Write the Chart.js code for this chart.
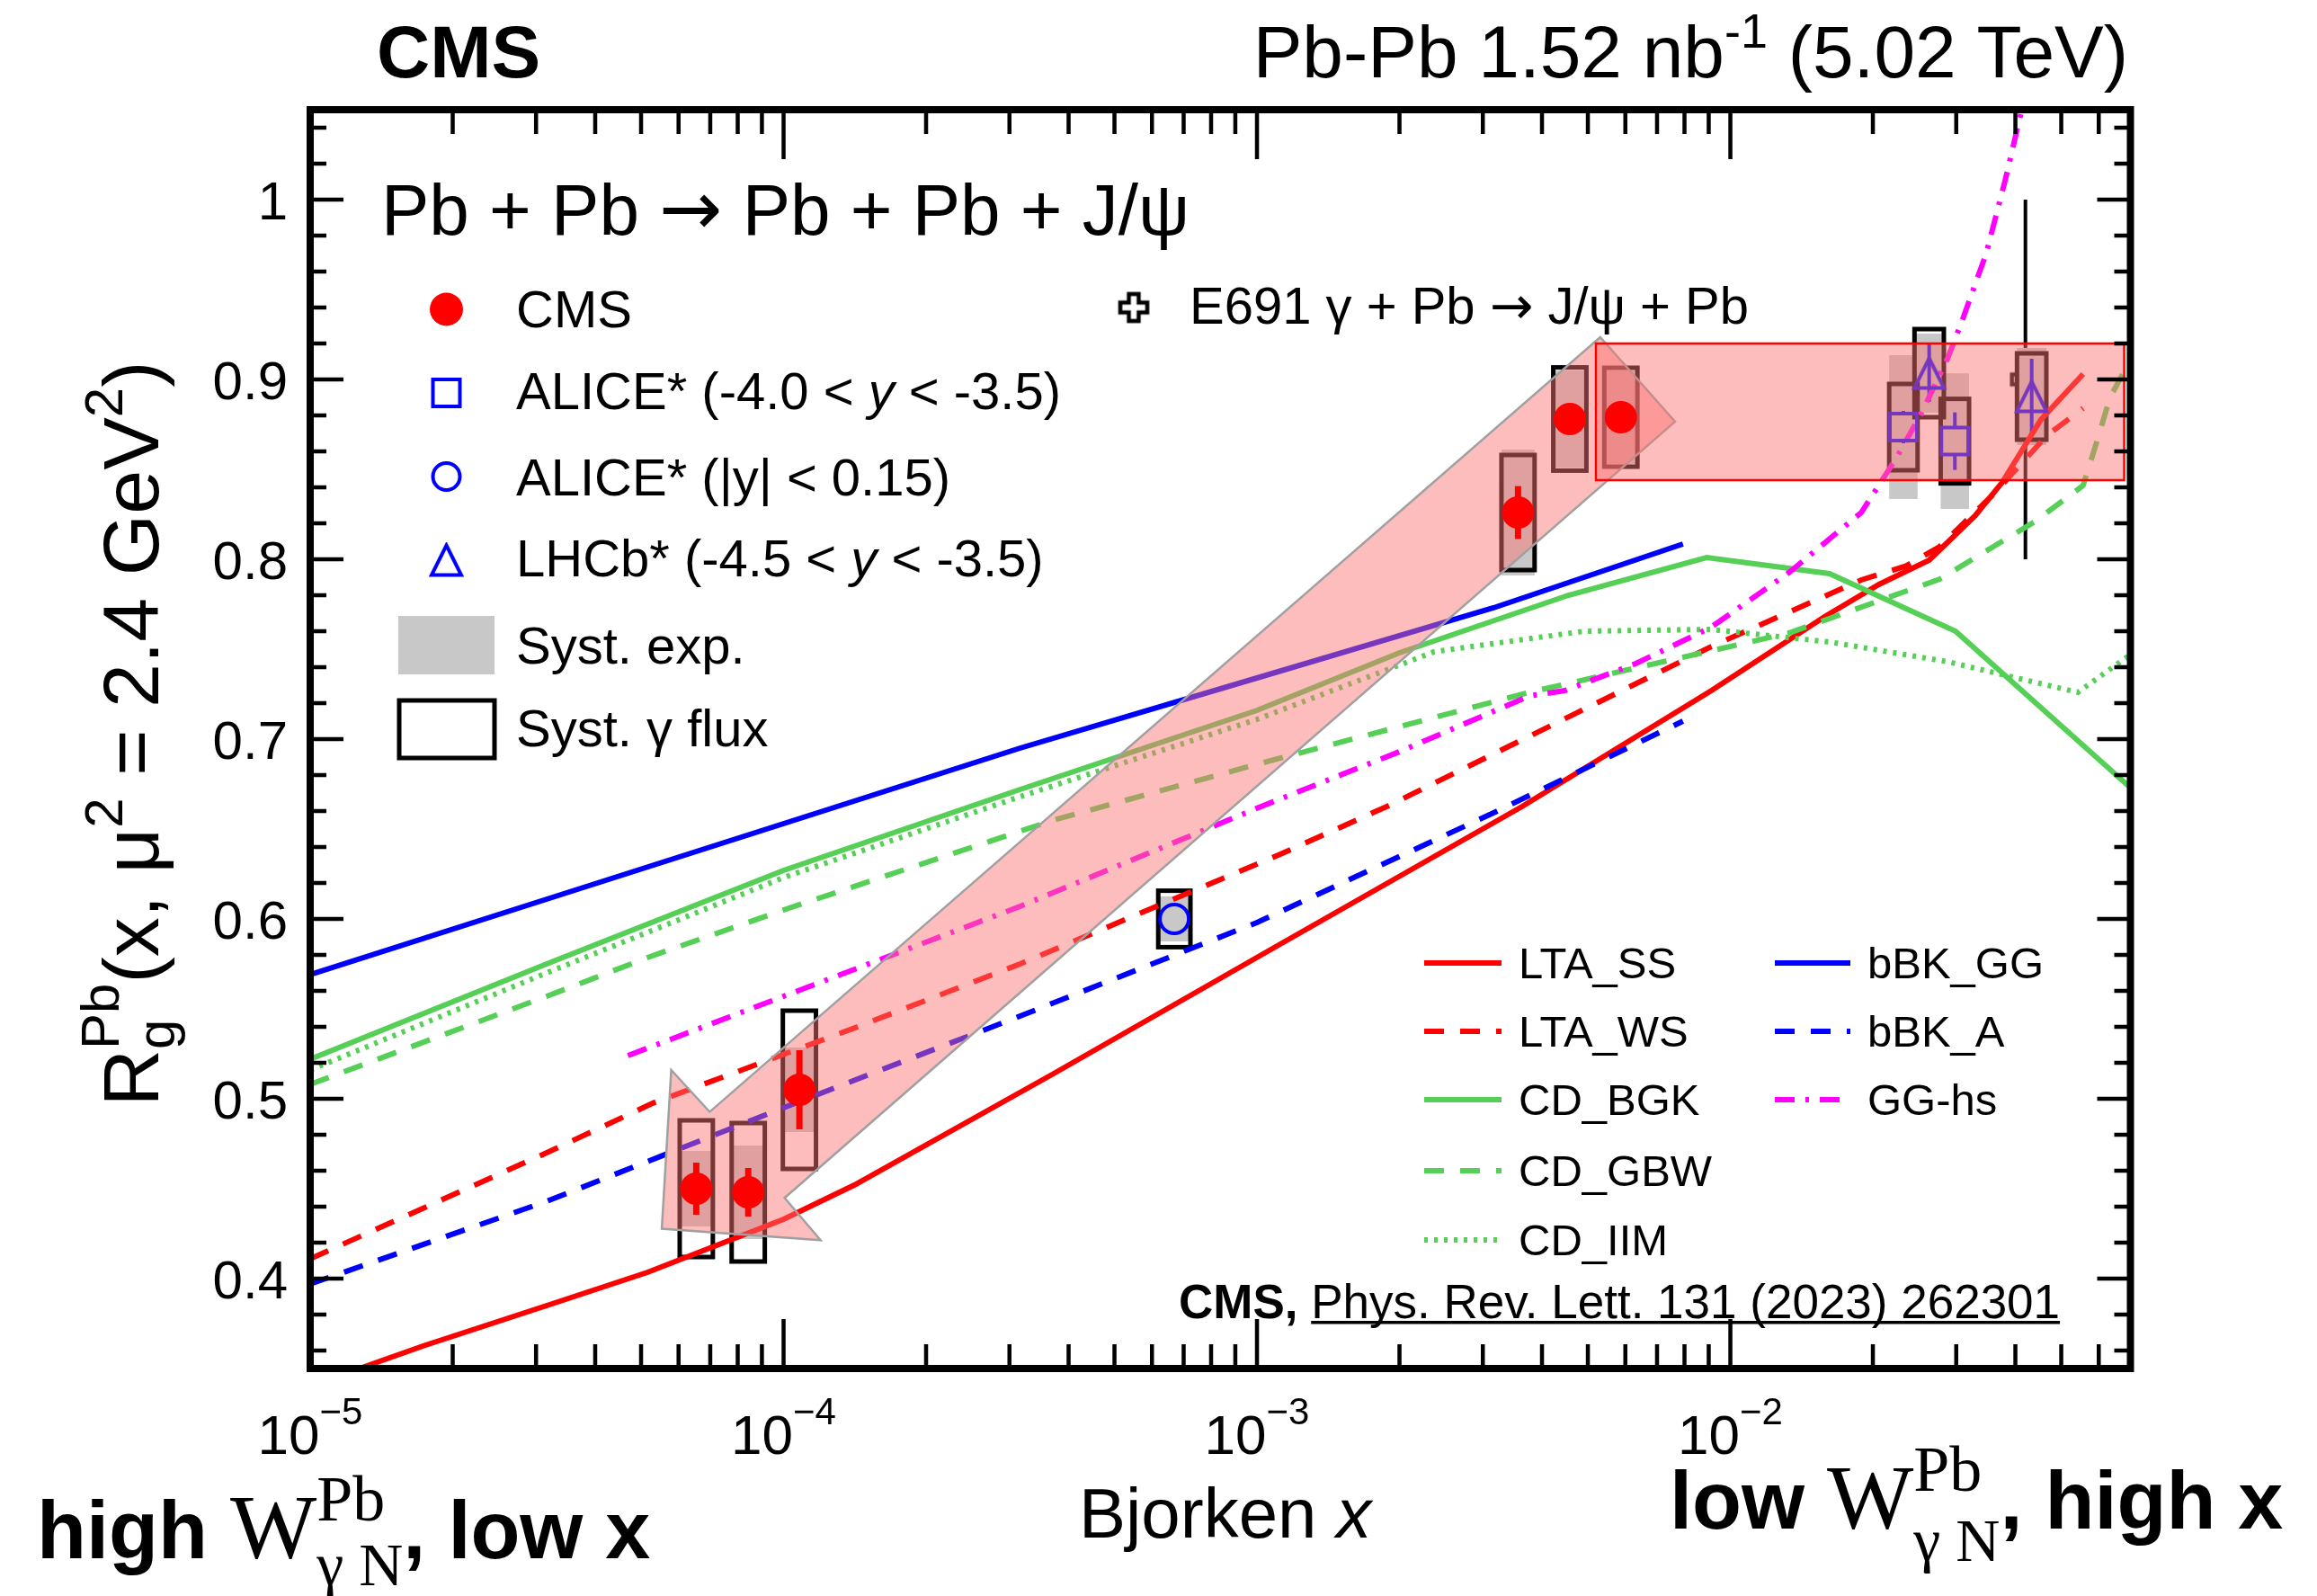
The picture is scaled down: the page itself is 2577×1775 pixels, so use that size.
<!DOCTYPE html>
<html>
<head>
<meta charset="utf-8">
<title>R_g^Pb versus Bjorken x</title>
<script src="https://cdn.jsdelivr.net/npm/chart.js@4.4.1/dist/chart.umd.min.js"></script>
<style>
  html, body { margin: 0; padding: 0; background: #fff; }
  canvas { display: block; }
</style>
</head>
<body>
<canvas id="rgChart" width="2577" height="1775"></canvas>
<script>
// ========================================
// Gluon nuclear modification factor R_g^Pb(x) from coherent J/psi photoproduction
// ========================================

// Axis ranges and tick labels
const xRange = [1e-5, 0.07];
const yRange = [0.35, 1.05];
const xDecades = [1e-5, 1e-4, 1e-3, 1e-2];
const xDecadeExponents = ['\u22125', '\u22124', '\u22123', '\u22122'];
const yMajorTicks = [0.4, 0.5, 0.6, 0.7, 0.8, 0.9, 1.0];
const yTickLabels = ['0.4', '0.5', '0.6', '0.7', '0.8', '0.9', '1'];

// CMS points (stat. error, exp. syst., photon-flux syst.)
const cmsX = [6.54e-5, 8.42e-5, 1.08e-4, 3.56e-3, 4.58e-3, 5.87e-3];
const cmsR = [0.450, 0.448, 0.505, 0.826, 0.878, 0.879];
const cmsStat = [0.0145, 0.0135, 0.022, 0.0147, 0.007, 0.007];
const cmsSystExp = [0.021, 0.026, 0.0235, 0.035, 0.027, 0.026];
const cmsSystFlux = [0.038, 0.0385, 0.044, 0.032, 0.0287, 0.0275];

// ALICE forward rapidity (-4.0 < y < -3.5)
const aliceFwdX = [0.0232, 0.0298];
const aliceFwdR = [0.8735, 0.8657];
const aliceFwdStat = [0.009, 0.016];
const aliceFwdSystExp = [0.040, 0.0377];
const aliceFwdSystFlux = [0.024, 0.0235];

// ALICE mid rapidity (|y| < 0.15)
const aliceMidX = [6.69e-4];
const aliceMidR = [0.600];
const aliceMidStat = [0.006];
const aliceMidSystExp = [0.0125];
const aliceMidSystFlux = [0.0157];

// LHCb (-4.5 < y < -3.5)
const lhcbX = [0.0263, 0.0433];
const lhcbR = [0.9035, 0.8905];
const lhcbStat = [0.016, 0.021];
const lhcbSystExp = [0.022, 0.027];
const lhcbSystFlux = [0.0245, 0.024];

// E691 gamma + Pb
const e691X = [0.042];
const e691R = [0.90];
const e691Err = [0.10];

// Model curves
const ltaSsX = [1.0e-5, 1.27e-5, 1.73e-5, 3.16e-5, 5.16e-5, 1.0e-4, 1.41e-4, 3.72e-4, 1.12e-3, 3.63e-3, 9.12e-3, 1.58e-2, 2.06e-2, 2.63e-2, 3.29e-2, 3.75e-2, 4.53e-2, 5.56e-2];
const ltaSsR = [0.340, 0.350, 0.3625, 0.385, 0.4035, 0.433, 0.452, 0.514, 0.586, 0.6625, 0.727, 0.768, 0.786, 0.7995, 0.8243, 0.8427, 0.8777, 0.903];

const ltaWsX = [1.0e-5, 3.16e-5, 5.31e-5, 1.41e-4, 3.16e-4, 1.12e-3, 1.88e-3, 9.12e-3, 1.89e-2, 2.35e-2, 2.76e-2, 3.59e-2, 4.67e-2, 5.56e-2];
const ltaWsR = [0.411, 0.470, 0.4977, 0.5393, 0.575, 0.636, 0.6625, 0.7515, 0.7885, 0.7963, 0.8068, 0.836, 0.869, 0.884];

const cdBgkX = [1.0e-5, 3.16e-5, 1.0e-4, 3.16e-4, 1.0e-3, 2.0e-3, 4.55e-3, 8.91e-3, 1.62e-2, 2.99e-2, 7.0e-2];
const cdBgkR = [0.522, 0.575, 0.627, 0.672, 0.716, 0.748, 0.780, 0.801, 0.792, 0.760, 0.673];

const cdGbwX = [1.0e-5, 3.16e-5, 5.22e-5, 1.0e-4, 3.72e-4, 1.0e-3, 3.76e-3, 1.33e-2, 2.77e-2, 4.40e-2, 5.56e-2, 5.89e-2, 6.34e-2, 7.0e-2];
const cdGbwR = [0.508, 0.557, 0.579, 0.605, 0.655, 0.686, 0.726, 0.759, 0.789, 0.821, 0.841, 0.862, 0.890, 0.911];

const cdIimX = [1.0e-5, 3.16e-5, 1.0e-4, 3.16e-4, 1.0e-3, 2.37e-3, 4.91e-3, 9.08e-3, 1.62e-2, 2.88e-2, 5.42e-2, 7.0e-2];
const cdIimR = [0.516, 0.570, 0.623, 0.668, 0.711, 0.7486, 0.760, 0.761, 0.754, 0.743, 0.726, 0.747];

const bbkGgX = [1.0e-5, 3.16e-5, 1.0e-4, 3.16e-4, 1.0e-3, 3.16e-3, 7.94e-3];
const bbkGgR = [0.569, 0.611, 0.653, 0.695, 0.734, 0.773, 0.8085];

const bbkAX = [1.0e-5, 3.16e-5, 1.0e-4, 3.16e-4, 1.0e-3, 3.16e-3, 7.94e-3];
const bbkAR = [0.397, 0.443, 0.495, 0.546, 0.598, 0.659, 0.710];

const ggHsX = [4.69e-5, 1.0e-4, 3.16e-4, 1.02e-3, 2.0e-3, 3.76e-3, 4.47e-3, 6.31e-3, 9.08e-3, 1.33e-2, 1.89e-2, 2.25e-2, 2.53e-2, 2.88e-2, 3.10e-2, 3.47e-2, 3.80e-2, 4.17e-2];
const ggHsR = [0.524, 0.557, 0.607, 0.6625, 0.693, 0.724, 0.727, 0.742, 0.762, 0.7926, 0.826, 0.857, 0.881, 0.912, 0.934, 0.970, 1.010, 1.055];

// Shaded arrow (low-x solution towards high-x solution) and high-x band
const arrowX = [5.79e-5, 6.98e-5, 5.31e-3, 7.64e-3, 1.005e-4, 1.197e-4, 5.53e-5];
const arrowR = [0.516, 0.4927, 0.9235, 0.8765, 0.4449, 0.4214, 0.4277];
const bandX = [5.2e-3, 0.0679];
const bandR = [0.844, 0.920];

// ---- styles ----
const SANS = '"Liberation Sans", Arial, Helvetica, sans-serif';
const SERIF = '"Liberation Serif", "Times New Roman", serif';
const ARROW_FONT = '"DejaVu Sans", sans-serif';
const RED = '#ff0000';
const BLUE = '#0000ff';
const GREEN = '#56cf56';
const MAGENTA = '#ff00ff';
const CURVE_WIDTH = 6;

const models = [
  { label: 'LTA_SS', x: ltaSsX, y: ltaSsR, color: RED, dash: [] },
  { label: 'LTA_WS', x: ltaWsX, y: ltaWsR, color: RED, dash: [22, 18] },
  { label: 'CD_BGK', x: cdBgkX, y: cdBgkR, color: GREEN, dash: [] },
  { label: 'CD_GBW', x: cdGbwX, y: cdGbwR, color: GREEN, dash: [22, 18] },
  { label: 'CD_IIM', x: cdIimX, y: cdIimR, color: GREEN, dash: [4, 7] },
  { label: 'bBK_GG', x: bbkGgX, y: bbkGgR, color: BLUE, dash: [] },
  { label: 'bBK_A', x: bbkAX, y: bbkAR, color: BLUE, dash: [22, 18] },
  { label: 'GG-hs', x: ggHsX, y: ggHsR, color: MAGENTA, dash: [22, 12, 4, 12] }
];

// ---- custom ROOT-like markers ----
function triangleMarker(size, lw, color) {
  const c = document.createElement('canvas');
  c.width = c.height = Math.ceil(size + 2 * lw);
  const g = c.getContext('2d');
  const m = c.width / 2, h = size / 2;
  g.strokeStyle = color;
  g.lineWidth = lw;
  g.beginPath();
  g.moveTo(m, m - h);
  g.lineTo(m + h, m + h);
  g.lineTo(m - h, m + h);
  g.closePath();
  g.stroke();
  return c;
}

function openCrossMarker(size, lw, color) {
  const c = document.createElement('canvas');
  c.width = c.height = Math.ceil(size + 2 * lw);
  const g = c.getContext('2d');
  const m = c.width / 2, h = size / 2, t = size / 5.5;
  g.strokeStyle = color;
  g.lineWidth = lw;
  g.beginPath();
  g.moveTo(m - t, m - h); g.lineTo(m + t, m - h); g.lineTo(m + t, m - t);
  g.lineTo(m + h, m - t); g.lineTo(m + h, m + t); g.lineTo(m + t, m + t);
  g.lineTo(m + t, m + h); g.lineTo(m - t, m + h); g.lineTo(m - t, m + t);
  g.lineTo(m - h, m + t); g.lineTo(m - h, m - t); g.lineTo(m - t, m - t);
  g.closePath();
  g.stroke();
  return c;
}

const lhcbMarker = triangleMarker(33, 4, BLUE);
const e691Marker = openCrossMarker(30, 4.5, '#000');

function toPoints(xs, ys) {
  return xs.map((x, i) => ({ x: x, y: ys[i] }));
}

// ---- datasets (higher order is drawn first) ----
const datasets = [];

datasets.push({
  id: 'e691', data: toPoints(e691X, e691R), order: 90,
  pointStyle: e691Marker, pointRadius: 15, showLine: false
});

models.forEach((m, i) => {
  datasets.push({
    id: i === 0 ? 'firstModel' : 'model' + i,
    data: toPoints(m.x, m.y),
    order: 80 - i,
    showLine: true,
    borderColor: m.color,
    borderWidth: CURVE_WIDTH,
    borderDash: m.dash,
    borderCapStyle: 'butt',
    pointRadius: 0,
    fill: false,
    tension: 0
  });
});

datasets.push({
  id: 'aliceFwd', data: toPoints(aliceFwdX, aliceFwdR), order: 30,
  pointStyle: 'rect', pointRadius: 21.2, pointBorderWidth: 4,
  pointBorderColor: BLUE, pointBackgroundColor: 'rgba(0,0,0,0)', showLine: false
});
datasets.push({
  id: 'aliceMid', data: toPoints(aliceMidX, aliceMidR), order: 29,
  pointStyle: 'circle', pointRadius: 16, pointBorderWidth: 4,
  pointBorderColor: BLUE, pointBackgroundColor: 'rgba(0,0,0,0)', showLine: false
});
datasets.push({
  id: 'lhcb', data: toPoints(lhcbX, lhcbR), order: 28,
  pointStyle: lhcbMarker, pointRadius: 17, showLine: false
});
datasets.push({
  id: 'cms', data: toPoints(cmsX, cmsR), order: 0,
  pointStyle: 'circle', pointRadius: 18, pointBorderWidth: 0,
  pointBackgroundColor: RED, pointBorderColor: RED, showLine: false
});

// ---- drawing helpers ----
function drawRich(ctx, x, y, runs, measureOnly) {
  let cx = x;
  runs.forEach(r => {
    if (r.stack) {
      let w = 0;
      r.stack.forEach(s => {
        ctx.font = s.font;
        if (!measureOnly) ctx.fillText(s.text, cx, y + s.dy);
        w = Math.max(w, ctx.measureText(s.text).width);
      });
      cx += w;
    } else {
      ctx.font = r.font;
      if (!measureOnly) ctx.fillText(r.text, cx, y + (r.dy || 0));
      cx += ctx.measureText(r.text).width;
    }
  });
  return cx - x;
}

function vLine(ctx, x, y1, y2) {
  if (y2 - y1 <= 0) return;
  ctx.beginPath();
  ctx.moveTo(x, y1);
  ctx.lineTo(x, y2);
  ctx.stroke();
}

// error bar split around an open marker
function errorBar(ctx, x, yVal, err, ys, gap) {
  const yc = ys.getPixelForValue(yVal);
  const yt = ys.getPixelForValue(yVal + err);
  const yb = ys.getPixelForValue(yVal - err);
  vLine(ctx, x, yt, yc - gap);
  vLine(ctx, x, yc + gap, yb);
}

const boxGroups = [
  { x: cmsX, r: cmsR, exp: cmsSystExp, flux: cmsSystFlux, half: 0.035 },
  { x: aliceMidX, r: aliceMidR, exp: aliceMidSystExp, flux: aliceMidSystFlux, half: 0.034 },
  { x: aliceFwdX, r: aliceFwdR, exp: aliceFwdSystExp, flux: aliceFwdSystFlux, half: 0.03 },
  { x: lhcbX, r: lhcbR, exp: lhcbSystExp, flux: lhcbSystFlux, half: 0.031 }
];

function drawSystBoxes(chart) {
  const ctx = chart.ctx;
  const xs = chart.scales.x, ys = chart.scales.y;
  ctx.save();
  boxGroups.forEach(g => g.x.forEach((xv, i) => {
    const l = xs.getPixelForValue(xv / Math.pow(10, g.half));
    const r = xs.getPixelForValue(xv * Math.pow(10, g.half));
    const t = ys.getPixelForValue(g.r[i] + g.exp[i]);
    const b = ys.getPixelForValue(g.r[i] - g.exp[i]);
    ctx.fillStyle = '#c8c8c8';
    ctx.fillRect(l, t, r - l, b - t);
  }));
  ctx.strokeStyle = '#000';
  ctx.lineWidth = 5;
  boxGroups.forEach(g => g.x.forEach((xv, i) => {
    const l = xs.getPixelForValue(xv / Math.pow(10, g.half));
    const r = xs.getPixelForValue(xv * Math.pow(10, g.half));
    const t = ys.getPixelForValue(g.r[i] + g.flux[i]);
    const b = ys.getPixelForValue(g.r[i] - g.flux[i]);
    ctx.strokeRect(l, t, r - l, b - t);
  }));

  // blue error bars of the ALICE and LHCb points
  ctx.strokeStyle = BLUE;
  ctx.lineWidth = 4;
  aliceFwdX.forEach((xv, i) => errorBar(ctx, xs.getPixelForValue(xv), aliceFwdR[i], aliceFwdStat[i], ys, 15));
  aliceMidX.forEach((xv, i) => errorBar(ctx, xs.getPixelForValue(xv), aliceMidR[i], aliceMidStat[i], ys, 16));
  lhcbX.forEach((xv, i) => errorBar(ctx, xs.getPixelForValue(xv), lhcbR[i], lhcbStat[i], ys, 0));
  ctx.restore();
}

function drawE691Error(chart) {
  const ctx = chart.ctx;
  const xs = chart.scales.x, ys = chart.scales.y;
  ctx.save();
  ctx.strokeStyle = '#000';
  ctx.lineWidth = 4;
  e691X.forEach((xv, i) => errorBar(ctx, xs.getPixelForValue(xv), e691R[i], e691Err[i], ys, 15));
  ctx.restore();
}

function drawShading(chart) {
  const ctx = chart.ctx;
  const xs = chart.scales.x, ys = chart.scales.y;
  ctx.save();
  ctx.fillStyle = 'rgba(250, 115, 115, 0.47)';
  ctx.beginPath();
  arrowX.forEach((xv, i) => {
    const px = xs.getPixelForValue(xv), py = ys.getPixelForValue(arrowR[i]);
    if (i === 0) ctx.moveTo(px, py); else ctx.lineTo(px, py);
  });
  ctx.closePath();
  ctx.fill();
  ctx.strokeStyle = '#a0a0a0';
  ctx.lineWidth = 2.5;
  ctx.stroke();

  const l = xs.getPixelForValue(bandX[0]), r = xs.getPixelForValue(bandX[1]);
  const t = ys.getPixelForValue(bandR[1]), b = ys.getPixelForValue(bandR[0]);
  ctx.fillRect(l, t, r - l, b - t);
  ctx.strokeStyle = RED;
  ctx.strokeRect(l, t, r - l, b - t);
  ctx.restore();
}

function drawCmsErrors(chart) {
  const ctx = chart.ctx;
  const xs = chart.scales.x, ys = chart.scales.y;
  ctx.save();
  ctx.strokeStyle = RED;
  ctx.lineWidth = 7;
  cmsX.forEach((xv, i) => errorBar(ctx, xs.getPixelForValue(xv), cmsR[i], cmsStat[i], ys, 0));
  ctx.restore();
}

function drawFrame(chart) {
  const ctx = chart.ctx;
  const a = chart.chartArea;
  const xs = chart.scales.x, ys = chart.scales.y;
  ctx.save();
  ctx.strokeStyle = '#000';
  ctx.lineWidth = 4.5;
  ctx.beginPath();
  // log minor ticks 2..9 inside each decade
  for (let d = -5; d <= -2; d++) {
    for (let k = 1; k <= 9; k++) {
      const v = k * Math.pow(10, d);
      if (v > xRange[1]) break;
      const p = xs.getPixelForValue(v);
      const len = k === 1 ? 55 : 27;
      ctx.moveTo(p, a.bottom); ctx.lineTo(p, a.bottom - len);
      ctx.moveTo(p, a.top); ctx.lineTo(p, a.top + len);
    }
  }
  for (let k = 18; k <= 52; k++) {
    const v = k * 0.02;
    const p = ys.getPixelForValue(v);
    const len = k % 5 === 0 ? 37 : 18;
    ctx.moveTo(a.left, p); ctx.lineTo(a.left + len, p);
    ctx.moveTo(a.right, p); ctx.lineTo(a.right - len, p);
  }
  ctx.stroke();
  ctx.lineWidth = 8;
  ctx.strokeRect(a.left, a.top, a.right - a.left, a.bottom - a.top);
  ctx.restore();
}

function drawAxisLabels(chart) {
  const ctx = chart.ctx;
  const xs = chart.scales.x, ys = chart.scales.y;
  ctx.save();
  ctx.fillStyle = '#000';
  ctx.textBaseline = 'alphabetic';

  // y tick labels
  ctx.font = `60px ${SANS}`;
  ctx.textAlign = 'right';
  yMajorTicks.forEach((v, i) => {
    ctx.fillText(yTickLabels[i], 320, ys.getPixelForValue(v) + 22);
  });

  // x tick labels 10^n
  ctx.textAlign = 'left';
  xDecades.forEach((v, i) => {
    const p = xs.getPixelForValue(v);
    ctx.font = `62px ${SANS}`;
    const wb = ctx.measureText('10').width;
    ctx.font = `42px ${SANS}`;
    const we = ctx.measureText(xDecadeExponents[i]).width;
    const x0 = p - (wb + we) / 2;
    ctx.font = `62px ${SANS}`;
    ctx.fillText('10', x0, 1617);
    ctx.font = `42px ${SANS}`;
    ctx.fillText(xDecadeExponents[i], x0 + wb, 1584);
  });

  // x title
  drawRich(ctx, 1200, 1710, [
    { text: 'Bjorken ', font: `78px ${SANS}` },
    { text: 'x', font: `italic 78px ${SANS}` }
  ]);

  // y title, rotated
  const yTitle = [
    { text: 'R', font: `88px ${SANS}` },
    { stack: [{ text: 'Pb', font: `60px ${SANS}`, dy: -44 }, { text: 'g', font: `60px ${SANS}`, dy: 18 }] },
    { text: '(x, \u03bc', font: `88px ${SANS}` },
    { text: '2', font: `60px ${SANS}`, dy: -40 },
    { text: ' = 2.4 GeV', font: `88px ${SANS}` },
    { text: '2', font: `60px ${SANS}`, dy: -40 },
    { text: ')', font: `88px ${SANS}` }
  ];
  ctx.save();
  ctx.translate(176, 816);
  ctx.rotate(-Math.PI / 2);
  const wt = drawRich(ctx, 0, 0, yTitle, true);
  drawRich(ctx, -wt / 2, 0, yTitle);
  ctx.restore();

  // W_{gamma N} labels under the axis
  const wStack = (dySup, dySub) => ({
    stack: [
      { text: 'Pb', font: `72px ${SERIF}`, dy: dySup },
      { text: '\u03b3 N', font: `68px ${SERIF}`, dy: dySub }
    ]
  });
  drawRich(ctx, 41, 1733, [
    { text: 'high ', font: `bold 90px ${SANS}` },
    { text: 'W', font: `102px ${SERIF}` },
    wStack(-42, 30),
    { text: ', low x', font: `bold 90px ${SANS}` }
  ]);
  drawRich(ctx, 1857, 1700, [
    { text: 'low ', font: `bold 90px ${SANS}` },
    { text: 'W', font: `102px ${SERIF}` },
    wStack(-42, 36),
    { text: ', high x', font: `bold 90px ${SANS}` }
  ]);

  // header
  ctx.font = `bold 82px ${SANS}`;
  ctx.fillText('CMS', 419, 86);
  const header = [
    { text: 'Pb-Pb 1.52 nb', font: `82px ${SANS}` },
    { text: '-1', font: `54px ${SANS}`, dy: -33 },
    { text: ' (5.02 TeV)', font: `82px ${SANS}` }
  ];
  const wh = drawRich(ctx, 0, 0, header, true);
  drawRich(ctx, 2367 - wh, 86, header);
  ctx.restore();
}

function drawLegends(chart) {
  const ctx = chart.ctx;
  ctx.save();
  ctx.fillStyle = '#000';
  ctx.textAlign = 'left';
  ctx.textBaseline = 'alphabetic';

  // process label
  const fp = `80px ${SANS}`, fa = `84px ${ARROW_FONT}`;
  drawRich(ctx, 424, 261, [
    { text: 'Pb + Pb ', font: fp },
    { text: '\u2192', font: fa },
    { text: ' Pb + Pb + J/\u03c8', font: fp }
  ]);

  // data legend
  const mx = 496.5, tx = 574;
  const f = `58px ${SANS}`, fi = `italic 58px ${SANS}`, fArrow = `58px ${ARROW_FONT}`;
  ctx.fillStyle = RED;
  ctx.beginPath();
  ctx.arc(mx, 344, 18.5, 0, Math.PI * 2);
  ctx.fill();
  ctx.strokeStyle = BLUE;
  ctx.lineWidth = 4;
  ctx.strokeRect(mx - 15, 437 - 15, 30, 30);
  ctx.beginPath();
  ctx.arc(mx, 530, 15, 0, Math.PI * 2);
  ctx.stroke();
  ctx.drawImage(lhcbMarker, mx - lhcbMarker.width / 2, 623 - lhcbMarker.height / 2);
  ctx.fillStyle = '#c8c8c8';
  ctx.fillRect(443, 685, 107, 65);
  ctx.strokeStyle = '#000';
  ctx.lineWidth = 5;
  ctx.strokeRect(444, 779, 106, 64);

  ctx.fillStyle = '#000';
  drawRich(ctx, tx, 364, [{ text: 'CMS', font: f }]);
  drawRich(ctx, tx, 455, [{ text: 'ALICE* (-4.0 < ', font: f }, { text: 'y', font: fi }, { text: ' < -3.5)', font: f }]);
  drawRich(ctx, tx, 551, [{ text: 'ALICE* (|y| < 0.15)', font: f }]);
  drawRich(ctx, tx, 641, [{ text: 'LHCb* (-4.5 < ', font: f }, { text: 'y', font: fi }, { text: ' < -3.5)', font: f }]);
  drawRich(ctx, tx, 738, [{ text: 'Syst. exp.', font: f }]);
  drawRich(ctx, tx, 830, [{ text: 'Syst. \u03b3 flux', font: f }]);

  // E691 entry
  ctx.drawImage(e691Marker, 1261 - e691Marker.width / 2, 342 - e691Marker.height / 2);
  drawRich(ctx, 1323, 360, [
    { text: 'E691 \u03b3 + Pb ', font: f },
    { text: '\u2192', font: fArrow },
    { text: ' J/\u03c8 + Pb', font: f }
  ]);

  // model legend, two columns
  const rowsY = [1071, 1147, 1223, 1302, 1379];
  const cols = [{ x0: 1584, x1: 1670, tx: 1689 }, { x0: 1974, x1: 2058, tx: 2077 }];
  models.forEach((m, i) => {
    const col = i < 5 ? cols[0] : cols[1];
    const y = rowsY[i < 5 ? i : i - 5];
    ctx.strokeStyle = m.color;
    ctx.lineWidth = CURVE_WIDTH;
    ctx.lineCap = 'butt';
    ctx.setLineDash(m.dash);
    ctx.beginPath();
    ctx.moveTo(col.x0, y);
    ctx.lineTo(col.x1, y);
    ctx.stroke();
    ctx.setLineDash([]);
    ctx.fillStyle = '#000';
    ctx.font = `49px ${SANS}`;
    ctx.fillText(m.label, col.tx, y + 17);
  });

  // publication reference
  ctx.fillStyle = '#000';
  ctx.font = `bold 53px ${SANS}`;
  ctx.fillText('CMS,', 1311, 1466);
  const refX = 1311 + ctx.measureText('CMS, ').width;
  ctx.font = `53px ${SANS}`;
  const ref = 'Phys. Rev. Lett. 131 (2023) 262301';
  ctx.fillText(ref, refX, 1466);
  ctx.fillRect(refX, 1469, ctx.measureText(ref).width, 3.5);
  ctx.restore();
}

// ROOT-style decorations: boxes below the curves, shading below the CMS markers
const rootStylePlugin = {
  id: 'rootStyle',
  beforeDatasetDraw(chart, args) {
    const ds = chart.data.datasets[args.index];
    if (ds.id === 'e691') drawE691Error(chart);
    if (ds.id === 'firstModel') drawSystBoxes(chart);
    if (ds.id === 'cms') {
      drawShading(chart);
      drawCmsErrors(chart);
    }
  },
  afterDraw(chart) {
    drawFrame(chart);
    drawAxisLabels(chart);
    drawLegends(chart);
  }
};

// Initialize chart
document.addEventListener('DOMContentLoaded', () => {
  const ctx = document.getElementById('rgChart');
  new Chart(ctx, {
    type: 'scatter',
    data: { datasets: datasets },
    options: {
      responsive: false,
      animation: false,
      devicePixelRatio: 1,
      events: [],
      layout: {
        autoPadding: false,
        padding: { left: 345, right: 207.5, top: 122, bottom: 253 }
      },
      scales: {
        x: { type: 'logarithmic', min: xRange[0], max: xRange[1], display: false },
        y: { type: 'linear', min: yRange[0], max: yRange[1], display: false }
      },
      plugins: {
        legend: { display: false },
        tooltip: { enabled: false }
      }
    },
    plugins: [rootStylePlugin]
  });
});
</script>
</body>
</html>
